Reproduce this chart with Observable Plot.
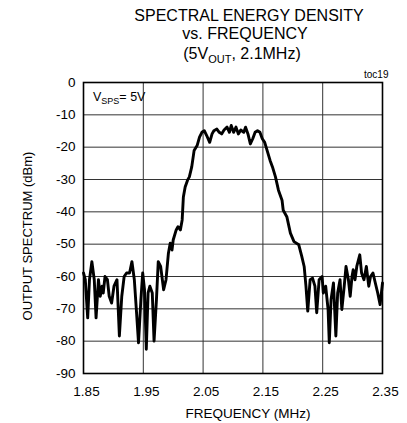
<!DOCTYPE html>
<html><head>
<meta charset="utf-8">
<script src="https://cdn.jsdelivr.net/npm/d3@7"></script>
<script src="https://cdn.jsdelivr.net/npm/@observablehq/plot@0.6"></script>
<style>html,body{margin:0;padding:0;background:#fff;} svg{display:block;}</style>
</head><body><div id="chart"></div>
<script>
const freqMHz = [1.850,1.853,1.857,1.860,1.864,1.868,1.871,1.875,1.878,1.881,1.883,1.886,1.890,1.893,1.897,1.901,1.906,1.910,1.914,1.918,1.922,1.927,1.931,1.935,1.938,1.942,1.946,1.949,1.952,1.955,1.958,1.961,1.965,1.968,1.972,1.975,1.979,1.984,1.988,1.992,1.995,1.998,2.000,2.005,2.008,2.012,2.015,2.017,2.020,2.024,2.027,2.031,2.035,2.040,2.044,2.048,2.052,2.056,2.061,2.065,2.068,2.073,2.077,2.081,2.085,2.090,2.094,2.097,2.101,2.105,2.109,2.113,2.118,2.121,2.125,2.129,2.133,2.137,2.141,2.145,2.149,2.153,2.157,2.162,2.166,2.171,2.176,2.182,2.184,2.190,2.196,2.202,2.210,2.215,2.219,2.222,2.225,2.229,2.233,2.237,2.240,2.244,2.249,2.251,2.255,2.259,2.261,2.264,2.268,2.272,2.275,2.279,2.282,2.286,2.289,2.293,2.296,2.299,2.301,2.304,2.307,2.312,2.315,2.319,2.323,2.327,2.330,2.334,2.338,2.342,2.346,2.350];
const spectrumDbm = [-58.9,-61.0,-72.8,-61.0,-55.4,-61.0,-72.8,-61.0,-66.1,-63.0,-65.1,-60.0,-61.0,-66.1,-68.2,-63.0,-61.0,-78.4,-66.1,-60.0,-58.9,-58.9,-55.4,-61.0,-69.2,-80.5,-67.1,-58.9,-64.1,-82.5,-65.1,-63.0,-65.1,-80.0,-67.1,-55.4,-56.9,-64.1,-61.0,-52.8,-49.7,-51.8,-48.7,-45.6,-44.6,-45.6,-42.5,-35.4,-32.3,-30.2,-29.2,-26.1,-21.0,-19.5,-16.9,-15.4,-14.9,-16.4,-18.5,-15.9,-14.9,-14.4,-15.4,-15.9,-14.7,-13.8,-15.4,-13.3,-15.4,-13.8,-15.9,-14.7,-15.4,-13.8,-15.9,-19.0,-17.4,-15.4,-14.9,-15.4,-17.4,-18.5,-21.0,-24.1,-26.1,-29.2,-33.3,-36.4,-39.5,-41.5,-46.6,-49.2,-50.2,-53.8,-56.9,-63.0,-70.7,-61.0,-60.5,-63.0,-71.2,-61.0,-60.0,-65.1,-63.0,-70.2,-80.5,-67.1,-62.0,-78.4,-65.1,-61.0,-70.2,-63.0,-56.9,-61.0,-66.1,-60.0,-57.9,-61.0,-56.9,-53.3,-58.9,-61.0,-56.9,-63.0,-60.0,-58.9,-62.0,-65.1,-68.7,-62.0];
const xTicks = [1.85,1.95,2.05,2.15,2.25,2.35];
const yTicks = [0,-10,-20,-30,-40,-50,-60,-70,-80,-90];

const data = freqMHz.map((f, i) => ({f, v: spectrumDbm[i]}));
const font = "'Liberation Sans', Arial, Helvetica, sans-serif";

const chart = Plot.plot({
  width: 407, height: 423,
  marginLeft: 83, marginRight: 25, marginTop: 82, marginBottom: 50,
  style: {fontFamily: font, fontSize: "13.5px", background: "#fff", color: "#000", overflow: "visible"},
  x: {domain: [1.85, 2.35], label: null},
  y: {domain: [-90, 0], label: null},
  marks: [
    Plot.gridX(xTicks, {stroke: "#333", strokeOpacity: 1, strokeWidth: 1}),
    Plot.gridY(yTicks, {stroke: "#333", strokeOpacity: 1, strokeWidth: 1}),
    Plot.axisX(xTicks, {tickSize: 0, tickPadding: 13, dx: 3, tickFormat: d => d.toFixed(2), fontSize: 13.5, label: null}),
    Plot.axisY(yTicks, {tickSize: 0, tickPadding: 8, tickFormat: d => String(d), fontSize: 13.5, label: null}),
    Plot.line(data, {x: "f", y: "v", stroke: "#000", strokeWidth: 2.9, strokeLinejoin: "round", strokeLinecap: "round"}),
    Plot.frame({stroke: "#000", strokeWidth: 1.6}),
    Plot.text(["FREQUENCY (MHz)"], {frameAnchor: "bottom", lineAnchor: "middle", textAnchor: "middle", dx: 15, dy: 40, fontSize: 13.5, fill: "#000"}),
    Plot.text(["OUTPUT SPECTRUM (dBm)"], {frameAnchor: "left", lineAnchor: "middle", textAnchor: "middle", dx: -56, dy: 8, rotate: -90, fontSize: 13, fill: "#000"}),
    Plot.text(["SPECTRAL ENERGY DENSITY"], {frameAnchor: "top", lineAnchor: "middle", textAnchor: "middle", dx: 16, dy: -67, fontSize: 16, fill: "#000"}),
    Plot.text(["vs. FREQUENCY"], {frameAnchor: "top", lineAnchor: "middle", textAnchor: "middle", dx: 12, dy: -49, fontSize: 16, fill: "#000"}),
    Plot.text(["toc19"], {frameAnchor: "top-right", lineAnchor: "middle", textAnchor: "end", dx: 6, dy: -8, fontSize: 10, fill: "#000"})
  ]
});

const svg = d3.select(chart);
// third title line with subscript
const t3 = svg.append("text")
  .attr("x", 242).attr("y", 59)
  .attr("text-anchor", "middle")
  .attr("font-family", font).attr("font-size", 16).attr("fill", "#000");
t3.append("tspan").text("(5V");
t3.append("tspan").attr("font-size", 11).attr("dy", 4).text("OUT");
t3.append("tspan").attr("dy", -4).text(", 2.1MHz)");

// condition label inside the plot
const t4 = svg.append("text")
  .attr("x", 93).attr("y", 101)
  .attr("text-anchor", "start")
  .attr("font-family", font).attr("font-size", 12.5).attr("fill", "#000");
t4.append("tspan").text("V");
t4.append("tspan").attr("font-size", 9).attr("dy", 3).text("SPS");
t4.append("tspan").attr("dy", -3).text("= 5V");

document.getElementById("chart").append(chart);
</script>
</body></html>
